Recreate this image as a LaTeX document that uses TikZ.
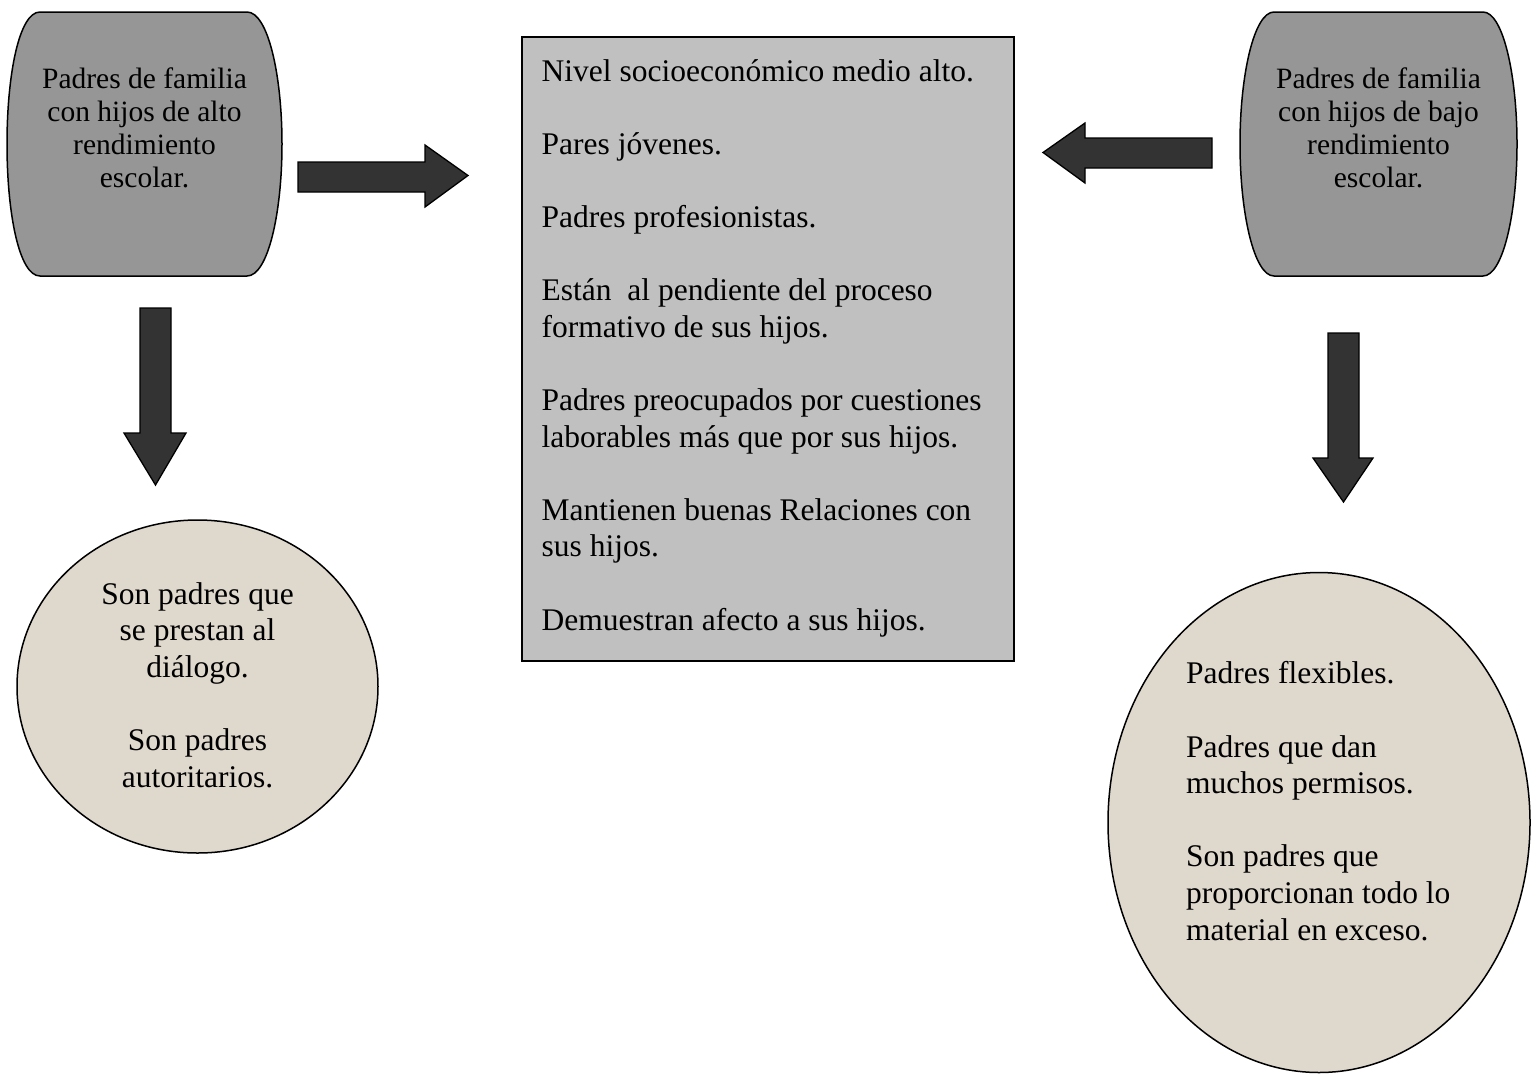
\documentclass[tikz,border=0pt]{standalone}
\usepackage{fontspec}
\setmainfont{Liberation Serif}
\newfontfamily\tnrfont{Liberation Serif}
\usetikzlibrary{shapes.geometric}
\definecolor{barrelgray}{RGB}{150,150,150}
\definecolor{boxgray}{RGB}{192,192,192}
\definecolor{arrowdark}{RGB}{51,51,51}
\definecolor{beige}{RGB}{223,216,204}
\tikzset{
  barrelshape/.style={draw=black, line width=1.5pt, fill=barrelgray},
  blockarrow/.style={draw=black, line width=1.3pt, fill=arrowdark, line join=miter},
  oval/.style={ellipse, draw=black, line width=1.5pt, fill=beige, inner sep=0pt},
  smalltext/.style={inner sep=0pt, align=center, font=\tnrfont\fontsize{29.5}{33}\selectfont},
  bigtext/.style={inner sep=0pt, font=\tnrfont\fontsize{31.5}{36.6}\selectfont},
}
\begin{document}
\begin{tikzpicture}[x=1pt,y=-1pt]
\useasboundingbox (0,0) rectangle (1536,1074);
% top-left barrel
\path[barrelshape] (40,12) -- (247,12) .. controls (268,12) and (282,75) .. (282,144)
  .. controls (282,213) and (268,276) .. (247,276) -- (40,276)
  .. controls (19,276) and (7,213) .. (7,144) .. controls (7,75) and (19,12) .. (40,12) -- cycle;
\node[smalltext, anchor=base] (lefttop) at (144.5,187) {Padres de familia\\con hijos de alto\\rendimiento\\escolar.};
% top-right barrel
\path[barrelshape] (1274,12) -- (1483,12) .. controls (1503,12) and (1517,75) .. (1517,144)
  .. controls (1517,213) and (1503,276) .. (1483,276) -- (1274,276)
  .. controls (1254,276) and (1240,213) .. (1240,144) .. controls (1240,75) and (1254,12) .. (1274,12) -- cycle;
\node[smalltext, anchor=base] (righttop) at (1378.5,187) {Padres de familia\\con hijos de bajo\\rendimiento\\escolar.};
% center box
\node[draw=black, line width=1.5pt, fill=boxgray, minimum width=492pt, minimum height=624pt, anchor=north west, inner sep=0pt] (box) at (521,36) {};
\node[bigtext, anchor=base west, align=left] (boxtext) at (541.5,630)
 {Nivel socioeconómico medio alto.\\[36.6pt]
  Pares jóvenes.\\[36.6pt]
  Padres profesionistas.\\[36.6pt]
  Están\ \ al pendiente del proceso\\
  formativo de sus hijos.\\[36.6pt]
  Padres preocupados por cuestiones\\
  laborables más que por sus hijos.\\[36.6pt]
  Mantienen buenas Relaciones con\\
  sus hijos.\\[36.6pt]
  Demuestran afecto a sus hijos.};
% arrows
\path[blockarrow] (298,162) -- (425,162) -- (425,145) -- (468,175.5) -- (425,207) -- (425,192) -- (298,192) -- cycle;
\path[blockarrow] (1212,138) -- (1085,138) -- (1085,123) -- (1043,152.5) -- (1085,183) -- (1085,168) -- (1212,168) -- cycle;
\path[blockarrow] (140,308) -- (171,308) -- (171,433) -- (186,433) -- (155.5,485) -- (124,433) -- (140,433) -- cycle;
\path[blockarrow] (1328,333) -- (1359,333) -- (1359,458) -- (1373,458) -- (1343.5,502) -- (1313,458) -- (1328,458) -- cycle;
% ovals
\node[oval, minimum width=361pt, minimum height=333pt] (leftoval) at (197.5,686.5) {};
\node[bigtext, align=center, anchor=base] (leftovaltext) at (197.5,787)
 {Son padres que\\se prestan al\\diálogo.\\[36.6pt]Son padres\\autoritarios.};
\node[oval, minimum width=422pt, minimum height=500pt] (rightoval) at (1319,822.5) {};
\node[bigtext, align=left, anchor=base west] (rightovaltext) at (1186,940)
 {Padres flexibles.\\[36.6pt]
  Padres que dan\\muchos permisos.\\[36.6pt]
  Son padres que\\proporcionan todo lo\\material en exceso.};
\end{tikzpicture}
\end{document}
